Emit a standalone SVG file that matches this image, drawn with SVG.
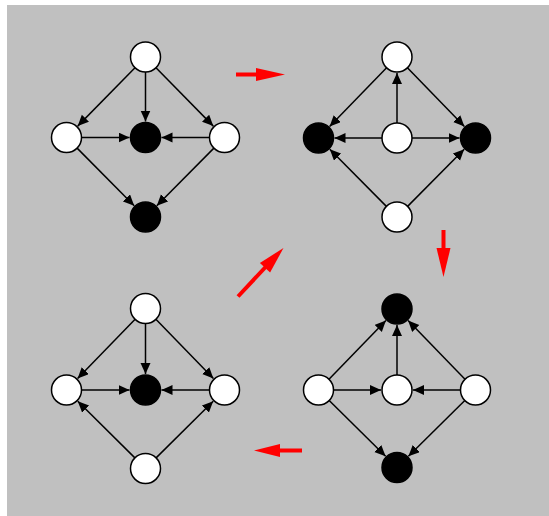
<svg xmlns="http://www.w3.org/2000/svg" width="549" height="516" viewBox="0 0 549 516">
<style>
.bg{fill:#c0c0c0}
.w{fill:#ffffff;stroke:#000;stroke-width:1.5}
.b{fill:#000;stroke:#000;stroke-width:1.5}
.e{stroke:#000;stroke-width:1.5;fill:none;marker-end:url(#ah)}
.rl{stroke:#ff0000;stroke-width:4;fill:none}
.rh{fill:#ff0000}
</style>
<defs>
<marker id="ah" markerUnits="userSpaceOnUse" markerWidth="12" markerHeight="11" refX="11" refY="5" orient="auto">
<path d="M0,0 L11,5 L0,10 z" fill="#000"/>
</marker>
</defs>
<rect class="bg" x="7" y="5" width="542" height="511"/>
<g id="connectors">
<!-- panel 1 -->
<line class="e" x1="135" y1="67.7" x2="77.7" y2="126.1"/>
<line class="e" x1="145.5" y1="72" x2="145.5" y2="121.5"/>
<line class="e" x1="156" y1="67.7" x2="213.3" y2="126.1"/>
<line class="e" x1="81.5" y1="137.5" x2="129.5" y2="137.5"/>
<line class="e" x1="209.5" y1="137.5" x2="161.5" y2="137.5"/>
<line class="e" x1="77.1" y1="148.1" x2="134.2" y2="205.7"/>
<line class="e" x1="213.9" y1="148.1" x2="156.8" y2="205.7"/>
<!-- panel 2 -->
<line class="e" x1="386.6" y1="67.8" x2="329.6" y2="126.5"/>
<line class="e" x1="407.4" y1="67.8" x2="464.4" y2="126.5"/>
<line class="e" x1="397" y1="123" x2="397" y2="73"/>
<line class="e" x1="382" y1="138" x2="334.5" y2="138"/>
<line class="e" x1="412" y1="138" x2="459.5" y2="138"/>
<line class="e" x1="386.4" y1="206.4" x2="329.8" y2="149.3"/>
<line class="e" x1="407.6" y1="206.4" x2="464.2" y2="149.3"/>
<!-- panel 3 -->
<line class="e" x1="135.1" y1="319.3" x2="77.6" y2="378.5"/>
<line class="e" x1="145.5" y1="323.5" x2="145.5" y2="374"/>
<line class="e" x1="155.9" y1="319.3" x2="213.4" y2="378.5"/>
<line class="e" x1="81.5" y1="390" x2="129.5" y2="390"/>
<line class="e" x1="209.5" y1="390" x2="161.5" y2="390"/>
<line class="e" x1="134.9" y1="457.9" x2="77.8" y2="401.3"/>
<line class="e" x1="156.1" y1="457.9" x2="213.2" y2="401.3"/>
<!-- panel 4 -->
<line class="e" x1="329" y1="379.2" x2="385.9" y2="320.5"/>
<line class="e" x1="397" y1="375" x2="397" y2="325"/>
<line class="e" x1="465" y1="379.2" x2="408.1" y2="320.5"/>
<line class="e" x1="333.5" y1="390" x2="381" y2="390"/>
<line class="e" x1="460.5" y1="390" x2="413" y2="390"/>
<line class="e" x1="329.2" y1="400.5" x2="385.6" y2="456.3"/>
<line class="e" x1="464.8" y1="400.5" x2="408.4" y2="456.3"/>
<!-- red transition arrows -->
<line class="rl" x1="236" y1="74.5" x2="262" y2="74.5"/>
<polygon class="rh" points="256,68 285,74.5 256,81"/>
<line class="rl" x1="443.5" y1="230" x2="443.5" y2="252"/>
<polygon class="rh" points="436.5,248 443.5,277 450.5,248"/>
<line class="rl" x1="238" y1="296.5" x2="267" y2="265.5"/>
<polygon class="rh" points="270.1,272.5 283.5,248 259.9,262.9"/>
<line class="rl" x1="302" y1="450.5" x2="275" y2="450.5"/>
<polygon class="rh" points="280,444 254,450.5 280,457"/>
</g>
<g id="p1-top"><circle class="w" cx="145.5" cy="57" r="15"/></g>
<g id="p1-left"><circle class="w" cx="66.5" cy="137.5" r="15"/></g>
<g id="p1-mid"><circle class="b" cx="145.5" cy="137.5" r="15"/></g>
<g id="p1-right"><circle class="w" cx="224.5" cy="137.5" r="15"/></g>
<g id="p1-bottom"><circle class="b" cx="145.5" cy="217" r="15"/></g>
<g id="p2-top"><circle class="w" cx="397" cy="57" r="15"/></g>
<g id="p2-left"><circle class="b" cx="318.5" cy="138" r="15"/></g>
<g id="p2-mid"><circle class="w" cx="397" cy="138" r="15"/></g>
<g id="p2-right"><circle class="b" cx="475.5" cy="138" r="15"/></g>
<g id="p2-bottom"><circle class="w" cx="397" cy="217" r="15"/></g>
<g id="p3-top"><circle class="w" cx="145.5" cy="308.5" r="15"/></g>
<g id="p3-left"><circle class="w" cx="66.5" cy="390" r="15"/></g>
<g id="p3-mid"><circle class="b" cx="145.5" cy="390" r="15"/></g>
<g id="p3-right"><circle class="w" cx="224.5" cy="390" r="15"/></g>
<g id="p3-bottom"><circle class="w" cx="145.5" cy="468.5" r="15"/></g>
<g id="p4-top"><circle class="b" cx="397" cy="309" r="15"/></g>
<g id="p4-left"><circle class="w" cx="318.5" cy="390" r="15"/></g>
<g id="p4-mid"><circle class="w" cx="397" cy="390" r="15"/></g>
<g id="p4-right"><circle class="w" cx="475.5" cy="390" r="15"/></g>
<g id="p4-bottom"><circle class="b" cx="397" cy="467.5" r="15"/></g>
</svg>
